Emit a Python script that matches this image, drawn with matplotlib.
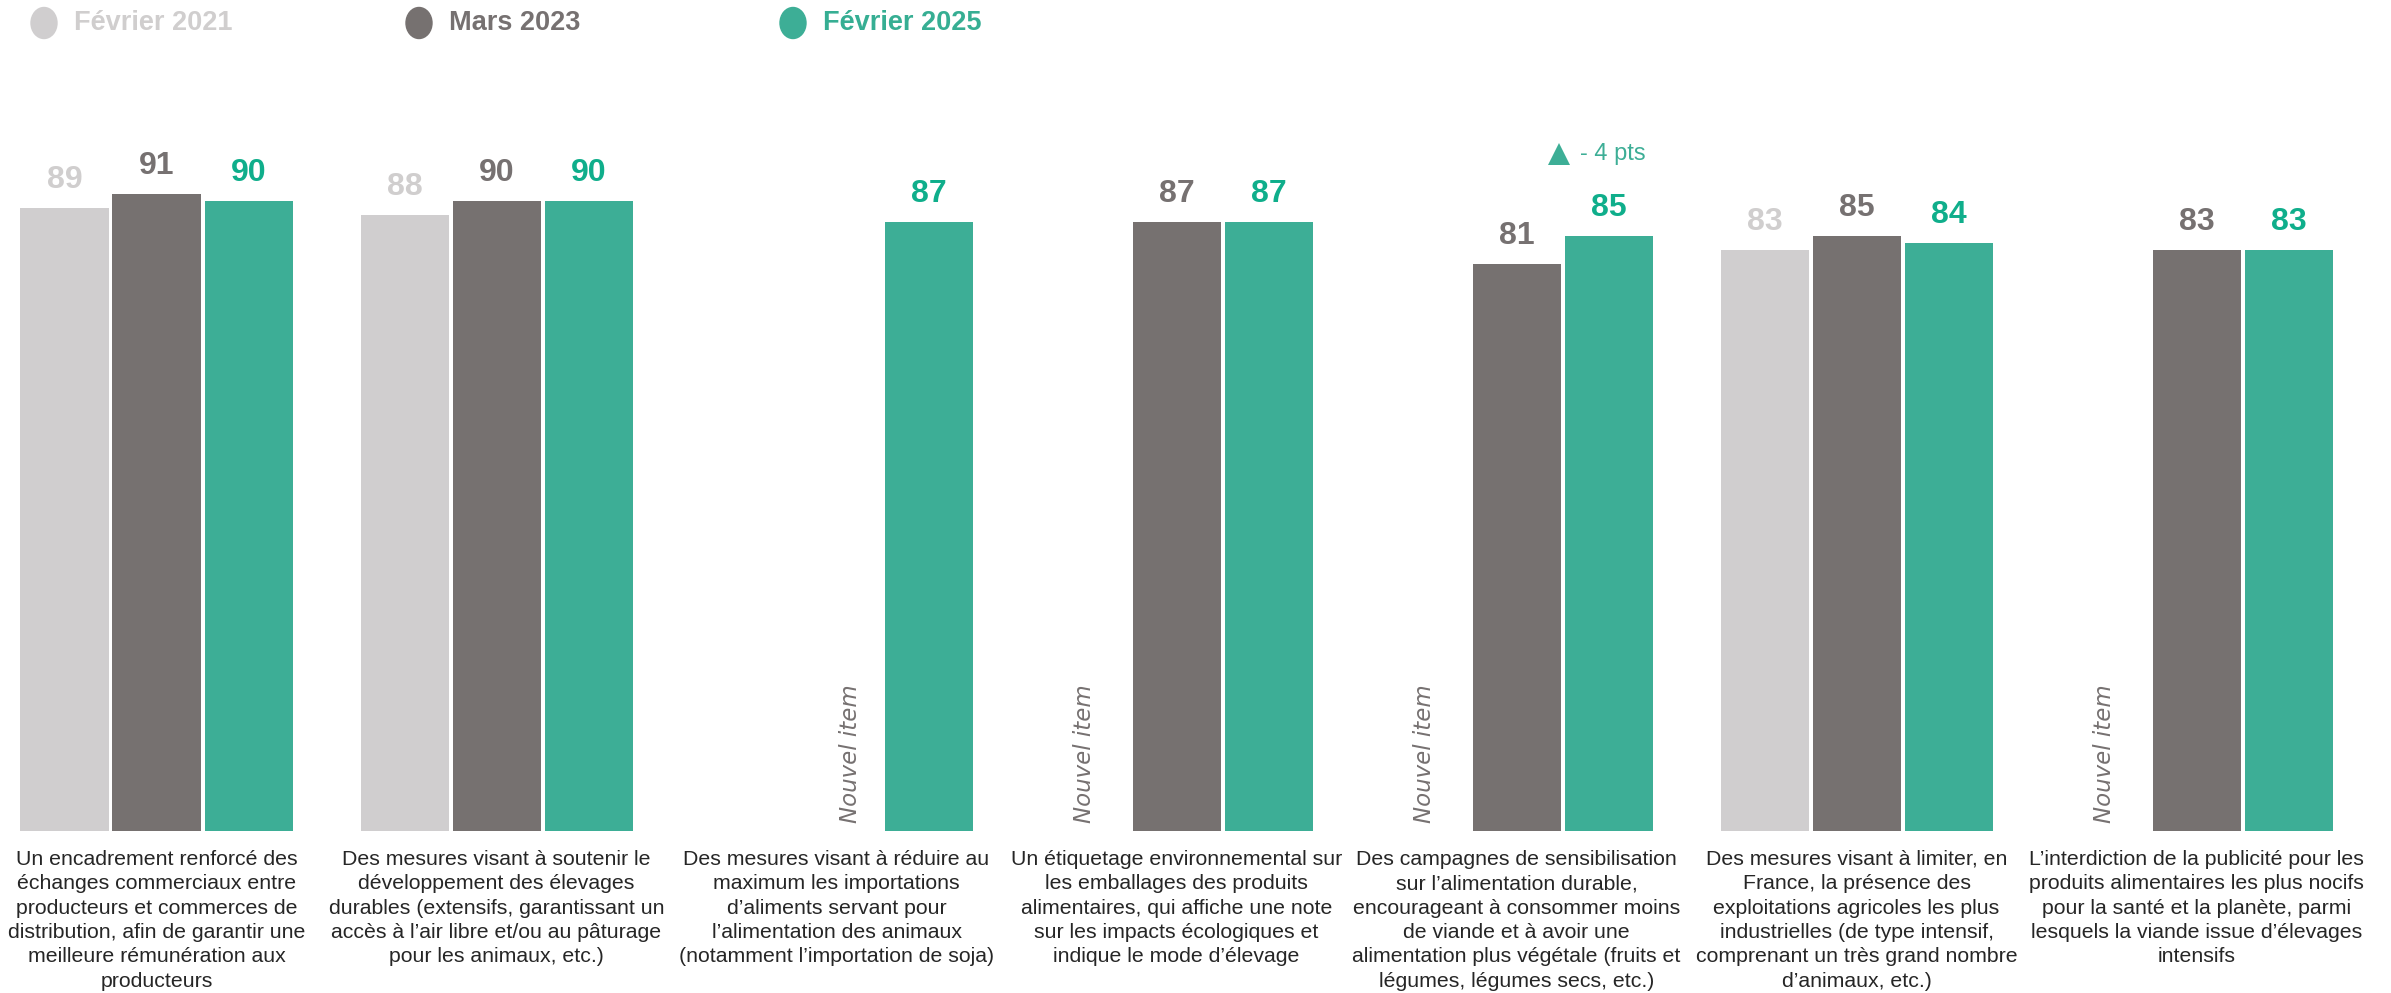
import numpy as np
import matplotlib
matplotlib.use("Agg")
import matplotlib.pyplot as plt
from matplotlib.lines import Line2D
from matplotlib.patches import Ellipse

# ---- data ----
categories = [
    "Un encadrement renforcé des\néchanges commerciaux entre\nproducteurs et commerces de\ndistribution, afin de garantir une\nmeilleure rémunération aux\nproducteurs",
    "Des mesures visant à soutenir le\ndéveloppement des élevages\ndurables (extensifs, garantissant un\naccès à l’air libre et/ou au pâturage\npour les animaux, etc.)",
    "Des mesures visant à réduire au\nmaximum les importations\nd’aliments servant pour\nl’alimentation des animaux\n(notamment l’importation de soja)",
    "Un étiquetage environnemental sur\nles emballages des produits\nalimentaires, qui affiche une note\nsur les impacts écologiques et\nindique le mode d’élevage",
    "Des campagnes de sensibilisation\nsur l’alimentation durable,\nencourageant à consommer moins\nde viande et à avoir une\nalimentation plus végétale (fruits et\nlégumes, légumes secs, etc.)",
    "Des mesures visant à limiter, en\nFrance, la présence des\nexploitations agricoles les plus\nindustrielles (de type intensif,\ncomprenant un très grand nombre\nd’animaux, etc.)",
    "L’interdiction de la publicité pour les\nproduits alimentaires les plus nocifs\npour la santé et la planète, parmi\nlesquels la viande issue d’élevages\nintensifs",
]
series_names = ["Février 2021", "Mars 2023", "Février 2025"]
fev2021 = [89, 88, None, None, None, 83, None]
mars2023 = [91, 90, None, 87, 81, 85, 83]
fev2025 = [90, 90, 87, 87, 85, 84, 83]
new_item = [False, False, True, True, True, False, True]
annotation_group = 4
annotation_text = "- 4 pts"
new_item_text = "Nouvel item"

# ---- style ----
plt.rcParams["font.family"] = ["Liberation Sans", "DejaVu Sans"]
bar_colors = ["#D0CECF", "#767170", "#3DAE96"]
label_colors = ["#D0CECE", "#767171", "#0FAE8B"]
legend_text_colors = ["#D0CECE", "#767171", "#36AE93"]

W, H = 2391, 993
fig = plt.figure(figsize=(W / 100, H / 100), dpi=100)
base_px = 831
px_per_pt = 7.0
ax_bottom = 1 - base_px / H
ax_height = 100 * px_per_pt / H
ax = fig.add_axes([0, ax_bottom, 1, ax_height])

pitch = 340.0
c0 = 156.5
ax.set_xlim(-c0 / pitch, (W - c0) / pitch)
ax.set_ylim(0, 100)
ax.axis("off")

bw = 88 / pitch
off = 92 / pitch

all_series = [fev2021, mars2023, fev2025]
for i in range(len(categories)):
    present = [s for s in range(3) if all_series[s][i] is not None]
    if len(present) == 3:
        offsets = {0: -off, 1: 0.0, 2: off}
    elif len(present) == 2:
        offsets = {present[0]: 0.0, present[1]: off}
    else:
        offsets = {present[0]: off}
    for s in present:
        v = all_series[s][i]
        x = i + offsets[s]
        ax.bar(x, v, width=bw, color=bar_colors[s], edgecolor="none")
        ax.annotate(str(v), xy=(x, v), xytext=(0, 14.4), textcoords="offset points",
                    ha="center", va="baseline", fontsize=23, fontweight="bold",
                    color=label_colors[s])
    if new_item[i]:
        nx = i + (0.04 if len(present) == 1 else -0.272)
        ax.text(nx, 1.2, new_item_text, rotation=90, ha="center", va="bottom",
                fontsize=16.5, style="italic", color="#767171", family="DejaVu Sans")
    ax.annotate(categories[i], xy=(i, 0), xycoords=("data", "axes fraction"),
                xytext=(0, -13.5), textcoords="offset points", ha="center", va="top",
                fontsize=15.3, color="#262626", linespacing=1.36)

# annotation above group
gx = annotation_group + off
ax.plot([gx - 0.146], [96.7], marker="^", markersize=16, color="#3DAE96",
        linestyle="none", markeredgewidth=0)
ax.text(gx - 0.084, 96.7, annotation_text, ha="left", va="center", fontsize=17,
        color="#3DAE96")

# legend
leg_x = [44, 419, 793]
for k in range(3):
    fig.add_artist(Ellipse((leg_x[k] / W, 1 - 23 / H), 26 / W, 31 / H,
                           color=bar_colors[k], transform=fig.transFigure))
    fig.text((leg_x[k] + 30) / W, 1 - 23 / H, series_names[k], ha="left", va="center",
             fontsize=19.5, fontweight="bold", color=legend_text_colors[k])

fig.savefig("out.png", dpi=100)
